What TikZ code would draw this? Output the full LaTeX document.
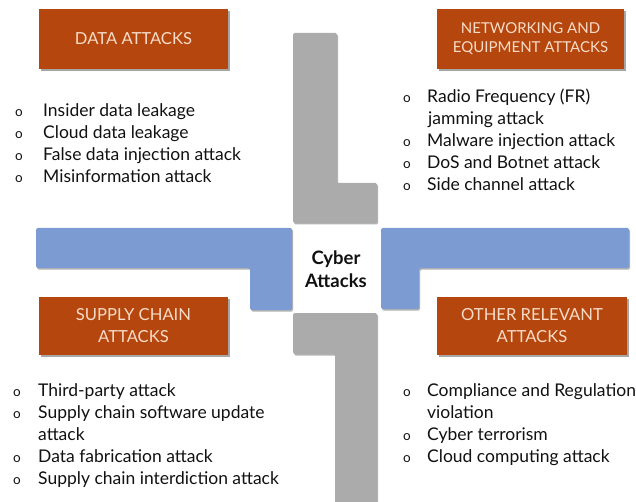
\documentclass[tikz,border=0pt]{standalone}
\usepackage{fontspec}
\setmainfont{Lato}
\usetikzlibrary{shadows}
\definecolor{boxfill}{HTML}{B4460E}
\definecolor{boxtext}{HTML}{F8DCC8}
\definecolor{barblue}{HTML}{7B9BD2}
\definecolor{bargray}{HTML}{ABABAB}
\definecolor{ink}{HTML}{111111}
\newcommand{\bul}{\makebox[\bulw][l]{\fontsize{13.5}{22}\selectfont o}}
\newlength{\bulw}
\tikzset{
  catbox/.style={fill=boxfill, text=boxtext, align=center, inner sep=0pt,
    font=\fontsize{16.6}{22}\selectfont,
    drop shadow={shadow xshift=1.5pt, shadow yshift=-2pt, opacity=0.35, fill=black}},
  bulletlist/.style={anchor=base west, align=left, inner sep=0pt, text=ink,
    font=\fontsize{17.5}{22}\selectfont},
  barshape/.style={rounded corners=1.5pt,
    drop shadow={shadow xshift=1pt, shadow yshift=-1.5pt, opacity=0.3, fill=black}},
}
\begin{document}
\begin{tikzpicture}[x=1pt,y=-1pt]
\useasboundingbox (0,0) rectangle (636,502);
\fill[white] (0,0) rectangle (636,502);
% gray L shapes
\fill[bargray, barshape] (293,33) -- (337,33) -- (337,183) -- (377,183) -- (377,223) -- (293,223) -- cycle;
\fill[bargray, barshape] (293,313) -- (377,313) -- (377,520) -- (335,520) -- (335,354) -- (293,354) -- cycle;
% blue L shapes
\fill[barblue, barshape] (36,228) -- (292,228) -- (292,310) -- (250,310) -- (250,268) -- (36,268) -- cycle;
\fill[barblue, barshape] (381,228) -- (629,228) -- (629,268) -- (419,268) -- (419,309) -- (381,309) -- cycle;
% center label
\node[align=center, font=\fontsize{18.5}{23}\bfseries\selectfont, text=ink] (center) at (336,269) {Cyber\\Attacks};
% category boxes
\node[catbox, minimum width=189pt, minimum height=60pt] (data) at (133.5,39) {DATA ATTACKS};
\node[catbox, minimum width=187pt, minimum height=60pt, font=\fontsize{15}{19}\selectfont] (net) at (530.5,39) {NETWORKING AND\\EQUIPMENT ATTACKS};
\node[catbox, minimum width=189pt, minimum height=58pt] (supply) at (133.5,326) {SUPPLY CHAIN\\ATTACKS};
\node[catbox, minimum width=190pt, minimum height=58pt] (other) at (532,326) {OTHER RELEVANT\\ATTACKS};
% lists (anchored at the baseline of their last line)
\setlength{\bulw}{28pt}
\node[bulletlist] (datalist) at (15,183) {\bul Insider data leakage\\\bul Cloud data leakage\\\bul False data injection attack\\\bul Misinformation attack};
\setlength{\bulw}{24pt}
\node[bulletlist] (netlist) at (403,191) {\bul Radio Frequency (FR)\\\hspace*{25pt}jamming attack\\\bul Malware injection attack\\\bul DoS and Botnet attack\\\bul Side channel attack};
\setlength{\bulw}{25pt}
\node[bulletlist] (supplylist) at (13,484) {\bul Third-party attack\\\bul Supply chain software update\\\hspace*{25pt}attack\\\bul Data fabrication attack\\\bul Supply chain interdiction attack};
\setlength{\bulw}{24pt}
\node[bulletlist] (otherlist) at (403,462) {\bul Compliance and Regulation\\\hspace*{24pt}violation\\\bul Cyber terrorism\\\bul Cloud computing attack};
\end{tikzpicture}
\end{document}
